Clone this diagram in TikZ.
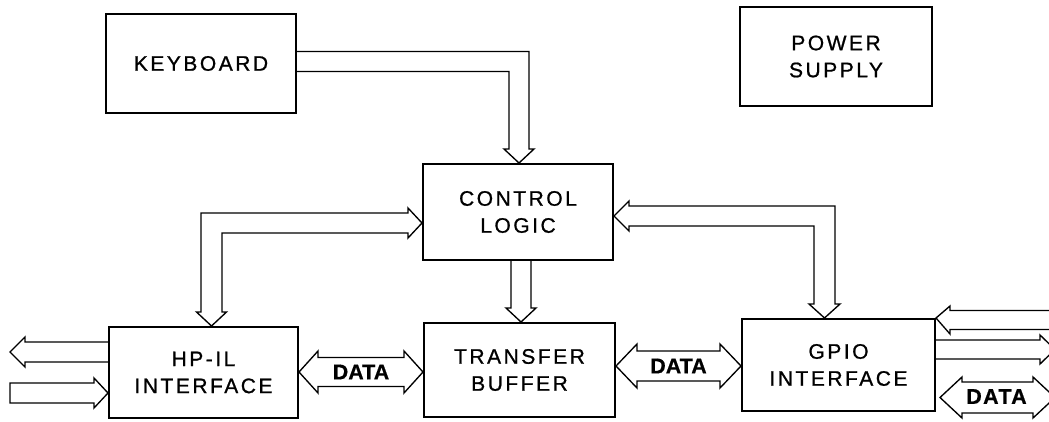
\documentclass[tikz,border=0pt]{standalone}
\usepackage{fontspec}
\setmainfont{Liberation Sans}
\newfontfamily\boxfont{Liberation Sans}[LetterSpace=12, FakeBold=0.9]
\newfontfamily\datafont{Liberation Sans}[FakeBold=0.6]
\newfontfamily\datafontw{Liberation Sans}[LetterSpace=6, FakeBold=0.6]
\usetikzlibrary{calc}
\begin{document}
\begin{tikzpicture}[x=1pt,y=-1pt,
  blk/.style={draw, line width=2pt, inner sep=0pt, align=center,
    font=\boxfont\fontsize{21}{27}\selectfont},
  bus/.style={draw, line width=1.35pt, line join=miter},
  lbl/.style={font=\datafont\bfseries\fontsize{21.5}{25}\selectfont, inner sep=0pt},
  lblw/.style={font=\datafontw\bfseries\fontsize{21.5}{25}\selectfont, inner sep=0pt}]
\useasboundingbox (0,0) rectangle (1049,421);
\clip (0,0) rectangle (1049,421);

% blocks
\node[blk, minimum width=190pt, minimum height=99pt] (kb)  at (201,63.5) {KEYBOARD};
\node[blk, minimum width=192pt, minimum height=99pt] (ps)  at (836,56.5) {POWER\\SUPPLY};
\node[blk, minimum width=190pt, minimum height=96pt] (ctl) at (518,212) {CONTROL\\LOGIC};
\node[blk, minimum width=189pt, minimum height=91pt] (hp)  at (203.5,372.5) {HP-IL\\INTERFACE};
\node[blk, minimum width=191pt, minimum height=94pt] (tb)  at (519.5,370) {TRANSFER\\BUFFER};
\node[blk, minimum width=193pt, minimum height=92pt] (gp)  at (838.5,365) {GPIO\\INTERFACE};

% free ends
\coordinate (hpout) at (10,352);
\coordinate (hpin)  at (10,393);
\coordinate (gpin)  at (1055,320);
\coordinate (gpout) at (1055,349.5);
\coordinate (dl)    at (940,397.5);
\coordinate (dr)    at (1055,397.5);

% keyboard -> control logic
\draw[bus] (kb.east |- 0,51.5) -- (529,51.5) -- (529,149) -- (534,149)
  -- (ctl.north -| 519,0) -- (504,149) -- (509,149) -- (509,71.5) -- (kb.east |- 0,71.5);

% control logic -> transfer buffer
\draw[bus] (ctl.south -| 511,0) -- (511,308) -- (506,308) -- (tb.north -| 521,0)
  -- (536,308) -- (531,308) -- (ctl.south -| 531,0);

% HP-IL <-> control logic
\draw[bus] (ctl.west |- 0,223) -- (408,208) -- (408,213) -- (201,213) -- (201,312)
  -- (196.5,312) -- (hp.north -| 211.5,0) -- (226.5,312) -- (222,312) -- (222,233)
  -- (408,233) -- (408,238) -- cycle;

% GPIO <-> control logic
\draw[bus] (ctl.east |- 0,216) -- (629,201) -- (629,206) -- (835,206) -- (835,304)
  -- (840,304) -- (gp.north -| 824.5,0) -- (809,304) -- (814,304) -- (814,226)
  -- (629,226) -- (629,231) -- cycle;

% HP-IL external lines
\draw[bus] (hp.west |- 0,342) -- (25,342) -- (25,337) -- (hpout) -- (25,367)
  -- (25,362) -- (hp.west |- 0,362);
\draw[bus] (hp.west |- 0,393) -- (94,378) -- (94,383) -- (hpin |- 0,383)
  -- (hpin |- 0,403) -- (94,403) -- (94,408) -- cycle;

% GPIO external lines
\draw[bus] (gpin |- 0,310.5) -- (950,310.5) -- (950,306) -- (gp.north east)
  -- (950,334) -- (950,329.5) -- (gpin |- 0,329.5);
\draw[bus] (gp.east |- 0,340) -- (1040,340) -- (1040,335) -- (gpout) -- (1040,364)
  -- (1040,359) -- (gp.east |- 0,359);

% DATA: HP-IL <-> transfer buffer
\draw[bus] (hp.east |- 0,372) -- (318,351) -- (318,357.5) -- (404,357.5) -- (404,351)
  -- (tb.west |- 0,372) -- (404,393) -- (404,386.5) -- (318,386.5) -- (318,393) -- cycle;
\node[lbl] (d1) at ($(hp.east |- 0,372)!0.5!(tb.west |- 0,372)$) {DATA};

% DATA: transfer buffer <-> GPIO
\draw[bus] (tb.east |- 0,366) -- (637,344) -- (637,351) -- (720,351) -- (720,344)
  -- (gp.west |- 0,366) -- (720,388) -- (720,381) -- (637,381) -- (637,388) -- cycle;
\node[lbl] (d2) at ($(tb.east |- 0,366)!0.5!(gp.west |- 0,366)$) {DATA};

% DATA: GPIO external
\draw[bus] (dl) -- (962,377) -- (962,382) -- (1033,382) -- (1033,377) -- (dr)
  -- (1033,418) -- (1033,413) -- (962,413) -- (962,418) -- cycle;
\node[lblw] (d3) at (996.5,396.5) {DATA};
\end{tikzpicture}
\end{document}
